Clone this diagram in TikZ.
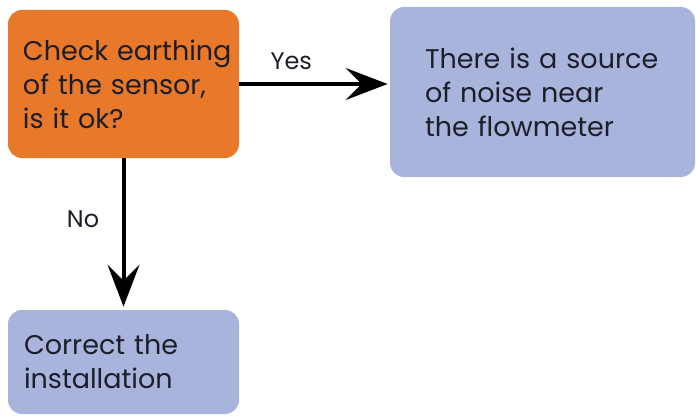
\documentclass[tikz,border=0pt]{standalone}
\usepackage{fontspec}
\setmainfont{Poppins}
\usetikzlibrary{arrows.meta}

\definecolor{queryorange}{HTML}{E8782A}
\definecolor{answerblue}{HTML}{A9B4DC}
\definecolor{inkdark}{HTML}{1E1E2A}

\begin{document}
\begin{tikzpicture}[x=1pt, y=1pt, thick, font=\fontsize{24}{33}\selectfont,
  query/.style = {rounded corners=14pt, fill=queryorange, text=inkdark, align=left, inner ysep=0pt, font=\fontsize{27}{34}\selectfont},
  answer/.style = {rounded corners=14pt, fill=answerblue, text=inkdark, align=left, inner ysep=0pt, font=\fontsize{27}{34}\selectfont},
  flow/.style = {line width=4pt, -{Stealth[length=42pt, width=32pt, inset=16pt]}}]
\useasboundingbox (0,0) rectangle (696,416);
\node[query, inner xsep=15pt, text width=201pt, minimum height=148pt] (check) at (123.5,332) {\mbox{Check earthing}\\\mbox{of the sensor,}\\\mbox{is it ok?}};
\node[answer, inner xsep=35pt, text width=235pt, minimum height=170pt] (noise) at (542.5,324) {\mbox{There is a source}\\\mbox{of noise near}\\\mbox{the flowmeter}};
\node[answer, inner xsep=16pt, text width=199pt, minimum height=104pt] (fix) at (123.5,54) {\mbox{Correct the}\\\mbox{installation}};
\draw[flow] (check.east) -- node[pos=0.35, above=9pt, text=inkdark] {Yes} ([xshift=-2pt]check.east -| noise.west);
\draw[flow] (check.south) -- node[pos=0.41, left=19pt, text=inkdark] {No} ([yshift=3pt]fix.north);
\end{tikzpicture}
\end{document}
